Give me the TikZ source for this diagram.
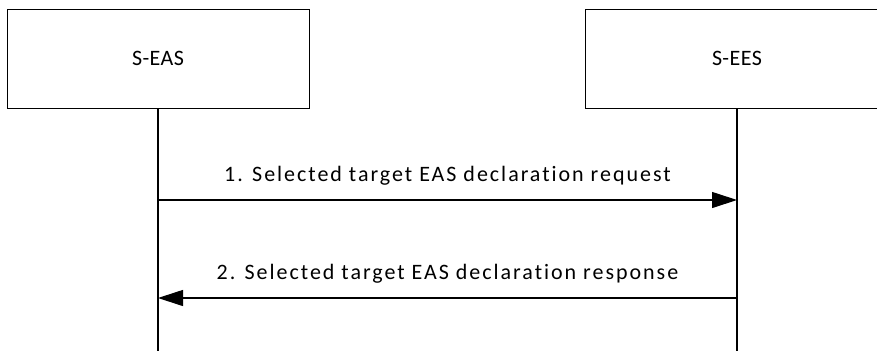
\documentclass[tikz,border=0pt]{standalone}
\usepackage{fontspec}
\setmainfont[LetterSpace=9, Ligatures=NoCommon]{Carlito}
\usetikzlibrary{positioning, arrows.meta}

\begin{document}
\begin{tikzpicture}[
  x=1pt, y=-1pt,
  font=\fontsize{22}{26}\selectfont,
  entity/.style={draw=black, minimum width=302pt, minimum height=99pt, inner sep=0pt,
    font=\fontsize{22}{26}\selectfont\addfontfeature{LetterSpace=2}},
  lifeline/.style={draw=black, line width=1.1pt},
  msg/.style={-{Triangle[length=25pt, width=16pt]}, line width=1.1pt, black},
  msglabel/.style={above=19pt, anchor=base, inner sep=0pt}
]
  \useasboundingbox (0,0) rectangle (877,351);

  % entities
  \node[entity] (seas) at (158,58.5) {S-EAS};
  \node[entity, minimum width=304pt] (sees) at (737,58.5) {S-EES};

  % lifeline ends
  \coordinate (seasend) at (158,351);
  \coordinate (seesend) at (737,351);
  \draw[lifeline] (seas.south) -- (seasend);
  \draw[lifeline] (sees.south) -- (seesend);

  % messages
  \coordinate (m1a) at (158,200);
  \coordinate (m1b) at (737,200);
  \coordinate (m2a) at (737,298);
  \coordinate (m2b) at (158,298);
  \draw[msg] (m1a) -- node[msglabel] {1. Selected target EAS declaration request} (m1b);
  \draw[msg] (m2a) -- node[msglabel] {2. Selected target EAS declaration response} (m2b);
\end{tikzpicture}
\end{document}
